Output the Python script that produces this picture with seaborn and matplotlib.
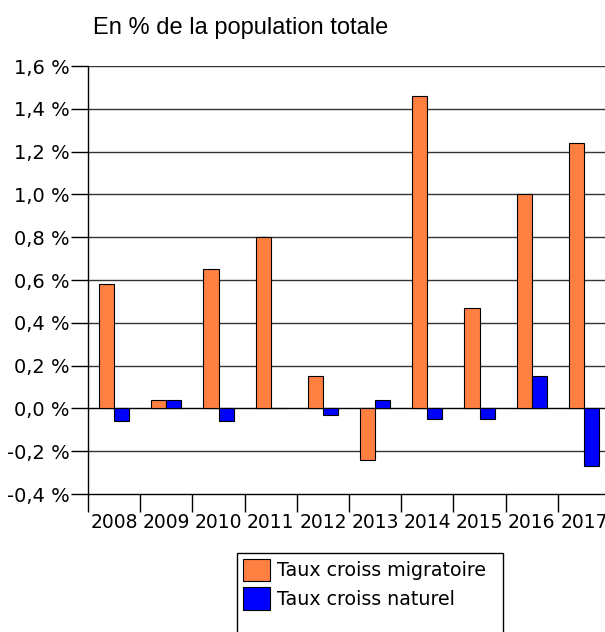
import matplotlib
matplotlib.use("Agg")
import matplotlib.pyplot as plt
import seaborn as sns
import pandas as pd
import numpy as np
from matplotlib.ticker import FixedLocator, FuncFormatter
from matplotlib.patches import Patch, Rectangle

years = ["2008", "2009", "2010", "2011", "2012", "2013", "2014", "2015", "2016", "2017"]
migratoire = [0.58, 0.04, 0.65, 0.80, 0.15, -0.24, 1.46, 0.47, 1.00, 1.24]
naturel = [-0.06, 0.04, -0.06, 0.00, -0.03, 0.04, -0.05, -0.05, 0.15, -0.27]
series_names = ["Taux croiss migratoire", "Taux croiss naturel"]
colors = ["#FF8040", "#0000FF"]
yticks = [-0.4, -0.2, 0.0, 0.2, 0.4, 0.6, 0.8, 1.0, 1.2, 1.4, 1.6]

df = pd.DataFrame({
    "year": years * 2,
    "value": migratoire + naturel,
    "serie": [series_names[0]] * len(years) + [series_names[1]] * len(years),
})

sns.set_style("white")
plt.rcParams["font.family"] = ["DejaVu Sans"]
plt.rcParams["text.color"] = "black"
plt.rcParams["xtick.color"] = "black"
plt.rcParams["ytick.color"] = "black"

fig = plt.figure(figsize=(6.05, 6.32), dpi=100)
ax = fig.add_axes([88 / 605, 138 / 632, 522 / 605, 428 / 632])

sns.barplot(data=df, x="year", y="value", hue="serie", palette=colors,
            width=0.58, saturation=1, edgecolor="black", linewidth=0.8,
            legend=False, ax=ax)

ax.set_ylim(-0.4, 1.6)
ax.set_xlim(-0.5, len(years) - 0.5)
ax.set_yticks(yticks)
ax.yaxis.set_major_formatter(FuncFormatter(lambda v, p: f"{v:.1f} %".replace(".", ",").replace("-0,0", "0,0")))
for y in yticks[1:]:
    ax.axhline(y, color="#333333" if y != 0 else "black", linewidth=1.0, zorder=0)

ax.xaxis.set_minor_locator(FixedLocator(np.arange(-0.5, len(years), 1.0)))
ax.tick_params(axis="x", which="major", length=0, pad=14, labelsize=13.5, labelcolor="black")
ax.tick_params(axis="x", which="minor", length=13, width=1, color="black", direction="out",
               bottom=True)
ax.tick_params(axis="y", which="major", length=12, width=1, color="black", direction="out",
               labelsize=14, pad=1, left=True, labelcolor="black")

for s in ["top", "right"]:
    ax.spines[s].set_visible(False)
for s in ["left", "bottom"]:
    ax.spines[s].set_color("black")
    ax.spines[s].set_linewidth(1)
ax.set_xlabel("")
ax.set_ylabel("")

fig.text(93 / 605, 1 - 28 / 632, "En % de la population totale", fontsize=17, color="black",
         family=["Liberation Sans", "DejaVu Sans"], va="center", ha="left")

# legend frame (extends below the figure as in the reference)
fig.patches.append(Rectangle((237 / 605, -10 / 632), 266 / 605, (632 - 553 + 10) / 632,
                             transform=fig.transFigure, facecolor="white",
                             edgecolor="black", linewidth=1, zorder=0))

handles = [Patch(facecolor=c, edgecolor="black", linewidth=0.8) for c in colors]
leg = fig.legend(handles, series_names, loc="upper left",
                 bbox_to_anchor=(237 / 605, 1 - 553 / 632), borderaxespad=0,
                 fontsize=13.7, frameon=False, labelcolor="black",
                 handlelength=1.45, handleheight=1.45, handletextpad=0.35,
                 labelspacing=0.3, borderpad=0.3)

fig.savefig("out.png", dpi=100)
